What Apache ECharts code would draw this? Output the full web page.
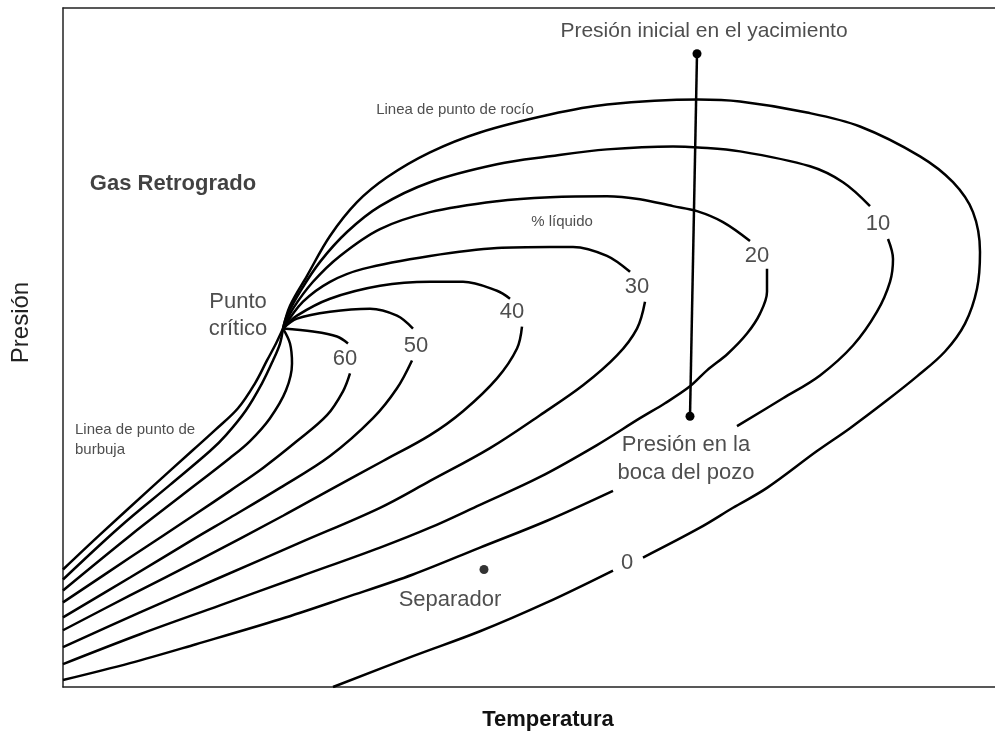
<!DOCTYPE html>
<html>
<head>
<meta charset="utf-8">
<title>Gas Retrogrado</title>
<script src="https://cdn.jsdelivr.net/npm/echarts@6/dist/echarts.min.js"></script>
<style>
  html, body { margin: 0; padding: 0; background: #fff; }
  #main { width: 995px; height: 736px; }
</style>
</head>
<body>
<div id="main"></div>
<script>
// curvas de calidad (% liquido), puntos [temperatura, presion] leidos del diagrama
// null = hueco donde va la etiqueta
var curva0 = [[220,360],[227,383],[244,413],[267,453],[294,487],[324,512],[367,537],[417,557],[487,575],[544,585],[635,590],[677,588],[744,577],[797,563],[857,533],[890,507],[910,477],[917,437],[914,400],[902,365],[882,337],[854,312],[824,288],[787,260],[754,237],[704,200],[670,180],[637,160],[580,130],null,[550,117],[484,85],[417,56],[350,31],[270,0]];
var curva10 = [[220,360],[224,373],[237,397],[257,427],[284,457],[317,483],[367,507],[434,525],[487,533],[544,540],[610,543],[635,542],[677,538],[747,523],[780,507],[807,483],null,[825,450],[830,430],[827,407],[814,377],[790,343],[757,313],[720,290],[674,262],null,[550,197],[484,167],[417,140],[350,113],[283,90],[217,68],[133,43],[67,24],[0,7]];
var curva20 = [[220,360],[230,380],[250,407],[277,433],[317,460],[367,477],[434,488],[487,492],[544,493],[577,490],[610,483],[634,478],[660,467],[687,448],null,[704,420],[704,397],[697,375],[684,355],[665,335],[644,318],[627,302],[602,285],[577,270],[534,243],[477,211],[417,183],[367,160],[317,140],[237,111],[157,82],[77,53],[0,23]];
var curva30 = [[220,360],[240,387],[267,407],[300,420],[367,433],[434,441],[487,442],[510,442],[544,433],[567,417],null,[582,387],[574,360],[554,333],[520,303],[477,273],[427,240],[367,207],[317,180],[237,145],[157,110],[77,75],[0,40]];
var curva40 = [[220,360],[234,373],[267,390],[317,403],[367,407],[400,407],[434,398],[447,390],null,[459,362],[454,340],[434,310],[400,277],[367,253],[320,227],[267,198],[220,172],[137,128],[67,92],[0,57]];
var curva50 = [[220,360],[234,370],[267,377],[307,380],[334,373],[350,360],null,[349,328],[334,300],[310,270],[267,232],[217,200],[167,170],[133,150],[67,110],[0,70]];
var curva60 = [[220,360],[250,357],[274,352],[285,345],null,[287,315],[280,297],[264,273],[234,247],[200,220],[167,197],[133,174],[67,130],[0,85]];
var burbuja = [[220,360],[213,345],[204,328],[192,305],[175,280],[152,258],[130,238],[87,199],[37,153],[0,118]];
var curvaB = [[220,360],[217,345],[210,328],[199,305],[183,278],[163,253],[147,237],[107,203],[57,161],[0,108]];
var curvaC = [[220,360],[227,345],[229,325],[223,298],[207,270],[187,247],[167,230],[117,191],[67,152],[0,97]];

// numeros de las curvas
var numeros = ['0', '10', '20', '30', '40', '50', '60'];
var numerosPos = [[564,125],[815,465],[694,433],[574,402],[449,377],[353,343],[282,330]];

// trayecto del yacimiento y separador
var yacimiento = [[634,636],[627,272]];
var separador = [[421,118]];

// textos
var notas = ['Presión inicial en el yacimiento', 'Presión en la\nboca del pozo', 'Separador', 'Punto\ncrítico', 'Gas Retrogrado', 'Linea de punto de rocío', '% líquido', 'Linea de punto de\nburbuja'];
var notasPos = [[641,659],[623,229],[387,87],[175,373],[110,505],[392,580],[499,467],[12,248]];

var myChart = echarts.init(document.getElementById('main'));

var fuente = 'Liberation Sans, Arial, sans-serif';

function limpiar(arr) {
  return arr.map(function (p) { return p ? p : ['-', '-']; });
}

var curvas = [curva0, curva10, curva20, curva30, curva40, curva50, curva60, burbuja, curvaB, curvaC];
var series = curvas.map(function (c) {
  return {
    type: 'line',
    data: limpiar(c),
    smooth: 0.35,
    symbol: 'none',
    connectNulls: false,
    silent: true,
    lineStyle: { color: '#000', width: 2.5 }
  };
});

// linea vertical del pozo
series.push({
  type: 'line',
  data: yacimiento,
  symbol: 'circle',
  symbolSize: 9,
  itemStyle: { color: '#000' },
  lineStyle: { color: '#000', width: 2.5 },
  silent: true
});
series.push({
  type: 'scatter',
  data: separador,
  symbolSize: 9,
  itemStyle: { color: '#000' },
  silent: true
});

// etiquetas de numeros
series.push({
  type: 'scatter',
  symbolSize: 1,
  itemStyle: { color: 'rgba(0,0,0,0)' },
  silent: true,
  data: numeros.map(function (t, i) {
    return { name: t, value: numerosPos[i] };
  }),
  label: {
    show: true,
    position: 'inside',
    formatter: function (p) { return p.name; },
    fontFamily: fuente,
    fontSize: 22,
    color: '#222'
  }
});

// etiquetas de texto
var tamanos = [21, 22, 22, 22, 22, 15, 15, 15];
var alturas = [24, 28, 24, 27, 24, 18, 18, 20];
series.push({
  type: 'scatter',
  symbolSize: 1,
  itemStyle: { color: 'rgba(0,0,0,0)' },
  silent: true,
  data: notas.map(function (t, i) {
    return {
      name: t,
      value: notasPos[i],
      label: {
        fontSize: tamanos[i],
        lineHeight: alturas[i],
        fontWeight: i === 4 ? 'bold' : 'normal',
        color: i === 4 ? '#111' : '#222',
        align: i === 7 ? 'left' : 'center'
      }
    };
  }),
  label: {
    show: true,
    position: 'inside',
    formatter: function (p) { return p.name; },
    fontFamily: fuente
  }
});

var ejeOculto = {
  axisTick: { show: false },
  axisLabel: { show: false },
  splitLine: { show: false }
};

var option = {
  backgroundColor: '#fff',
  animation: false,
  grid: { left: 63, right: 0, top: 8, bottom: 46 },
  xAxis: [
    Object.assign({
      type: 'value', min: 0, max: 932,
      name: 'Temperatura',
      nameLocation: 'middle',
      nameGap: 22,
      nameTextStyle: { fontFamily: fuente, fontSize: 22, fontWeight: 'bold', color: '#111', padding: [0, 0, 0, 38] },
      axisLine: { show: true, lineStyle: { color: '#222', width: 1.5 } }
    }, ejeOculto),
    // linea superior del marco
    Object.assign({
      type: 'value', min: 0, max: 932, position: 'top',
      axisLine: { show: true, lineStyle: { color: '#222', width: 1.5 } }
    }, ejeOculto)
  ],
  yAxis: Object.assign({
    type: 'value', min: 0, max: 682,
    name: 'Presión',
    nameLocation: 'middle',
    nameRotate: 90,
    nameGap: 30,
    nameTextStyle: { fontFamily: fuente, fontSize: 24, color: '#222', padding: [0, 0, 0, 50] },
    axisLine: { show: true, onZero: false, lineStyle: { color: '#222', width: 1.5 } }
  }, ejeOculto),
  series: series
};

myChart.setOption(option);
</script>
</body>
</html>
